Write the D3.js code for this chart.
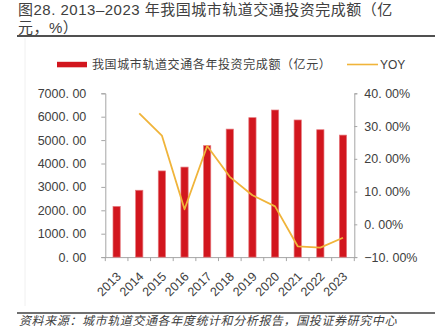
<!DOCTYPE html>
<html>
<head>
<meta charset="utf-8">
<script src="https://cdn.jsdelivr.net/npm/d3@7"></script>
<style>
  html, body { margin: 0; padding: 0; background: #fff; }
  svg { display: block; }
  text { font-family: "Liberation Sans", Arial, "Noto Sans CJK SC", sans-serif; }
  .cjk { font-family: "Noto Sans CJK SC", sans-serif; }
</style>
</head>
<body>
<svg id="chart" width="439" height="327"></svg>
<script>
// Annual urban rail transit investment (100 million CNY) and YoY growth (%)
const years = ["2013","2014","2015","2016","2017","2018","2019","2020","2021","2022","2023"];
const investment = [2165, 2857, 3683, 3847, 4762, 5470, 5959, 6286, 5860, 5443, 5214];
const yoy = [null, 33.9, 27.1, 4.6, 23.9, 14.5, 8.9, 5.5, -6.7, -7.1, -4.1];
const leftTicks = [0, 1000, 2000, 3000, 4000, 5000, 6000, 7000];
const rightTicks = [-10, 0, 10, 20, 30, 40];

const titleLines = ["图28. 2013–2023 年我国城市轨道交通投资完成额（亿", "元，%）"];
const barLabel = "我国城市轨道交通各年投资完成额（亿元）";
const lineLabel = "YOY";
const sourceText = "资料来源：城市轨道交通各年度统计和分析报告，国投证券研究中心";

const svg = d3.select("#chart");
const plot = { left: 105.3, right: 354.3, top: 93.3, bottom: 257.1 };

const x = d3.scaleBand().domain(years).range([plot.left, plot.right]).paddingInner(0.68).paddingOuter(0.34);
const xStep = d3.scaleBand().domain(years).range([plot.left, plot.right]);
const yL = d3.scaleLinear().domain([0, 7000]).range([plot.bottom, plot.top]);
const yR = d3.scaleLinear().domain([-10, 40]).range([plot.bottom, plot.top]);

// Title, two lines
svg.append("g").selectAll("text").data(titleLines).join("text")
  .attr("x", 18).attr("y", (d, i) => 14.5 + i * 18)
  .attr("font-size", 15).attr("letter-spacing", 0.5).attr("fill", "#404040")
  .text(d => d);
svg.append("line").attr("x1", 17).attr("x2", 435).attr("y1", 36).attr("y2", 36)
  .attr("stroke", "#505050").attr("stroke-width", 2.2);

// faint frame line on the left
svg.append("line").attr("x1", 25).attr("x2", 25).attr("y1", 38).attr("y2", 306)
  .attr("stroke", "#f0f0f0").attr("stroke-width", 1);

// Legend
svg.append("rect").attr("x", 57).attr("y", 61.8).attr("width", 30).attr("height", 5.5).attr("fill", "#d2161e");
svg.append("text").attr("class", "cjk").attr("x", 92).attr("y", 68.5)
  .attr("font-size", 12).attr("fill", "#404040").attr("letter-spacing", 0.6).text(barLabel);
svg.append("line").attr("x1", 347).attr("x2", 378).attr("y1", 64.5).attr("y2", 64.5)
  .attr("stroke", "#f0b43a").attr("stroke-width", 1.6);
svg.append("text").attr("x", 380).attr("y", 68.8)
  .attr("font-size", 12).attr("fill", "#404040").text(lineLabel);

const fmt = d3.format(".2f");
const axisColor = "#a6a6a6";

// Left axis
const gL = svg.append("g").attr("transform", `translate(${plot.left},0)`)
  .call(d3.axisLeft(yL).tickValues(leftTicks).tickSize(4).tickPadding(15)
    .tickFormat(d => fmt(d).replace(".", ". ")));
// Right axis
const gR = svg.append("g").attr("transform", `translate(${plot.right},0)`)
  .call(d3.axisRight(yR).tickValues(rightTicks).tickSize(3).tickPadding(7)
    .tickFormat(d => fmt(d).replace(".", ". ") + "%"));
// Bottom axis with ticks on category boundaries
const gB = svg.append("g").attr("transform", `translate(0,${plot.bottom})`)
  .call(d3.axisBottom(xStep).tickSize(0).tickFormat(""));
svg.append("g").selectAll("line").data(d3.range(years.length + 1)).join("line")
  .attr("x1", i => plot.left + i * xStep.step()).attr("x2", i => plot.left + i * xStep.step())
  .attr("y1", plot.bottom).attr("y2", plot.bottom + 4)
  .attr("stroke", axisColor);

[gL, gR, gB].forEach(g => {
  g.select(".domain").attr("stroke", axisColor);
  g.selectAll(".tick line").attr("stroke", axisColor);
  g.selectAll(".tick text").attr("font-size", 12.5).attr("fill", "#404040");
});

// Rotated year labels
svg.append("g").selectAll("text").data(years).join("text")
  .attr("transform", d => `translate(${x(d) + x.bandwidth() / 2 - 1},${plot.bottom + 14}) rotate(-45)`)
  .attr("text-anchor", "end").attr("dy", "0.7em")
  .attr("font-size", 12.5).attr("fill", "#404040")
  .text(d => d);

// Bars
svg.append("g").selectAll("rect").data(years).join("rect")
  .attr("x", d => x(d)).attr("width", x.bandwidth())
  .attr("y", (d, i) => yL(investment[i]))
  .attr("height", (d, i) => plot.bottom - yL(investment[i]))
  .attr("fill", "#d2161e").attr("stroke", "#e5787d").attr("stroke-width", 0.7);

// YoY line
const line = d3.line()
  .defined(d => d.v !== null)
  .x(d => x(d.year) + x.bandwidth() / 2)
  .y(d => yR(d.v));
svg.append("path")
  .datum(years.map((year, i) => ({ year, v: yoy[i] })))
  .attr("d", line).attr("fill", "none")
  .attr("stroke", "#f0b43a").attr("stroke-width", 1.8).attr("stroke-linejoin", "round");

// Source footer
svg.append("line").attr("x1", 17).attr("x2", 435).attr("y1", 313).attr("y2", 313)
  .attr("stroke", "#404040").attr("stroke-width", 1.5);
svg.append("text").attr("class", "cjk").attr("x", 19).attr("y", 325)
  .attr("font-size", 12).attr("letter-spacing", 0.6).attr("font-style", "italic").attr("fill", "#404040")
  .text(sourceText);
</script>
</body>
</html>
